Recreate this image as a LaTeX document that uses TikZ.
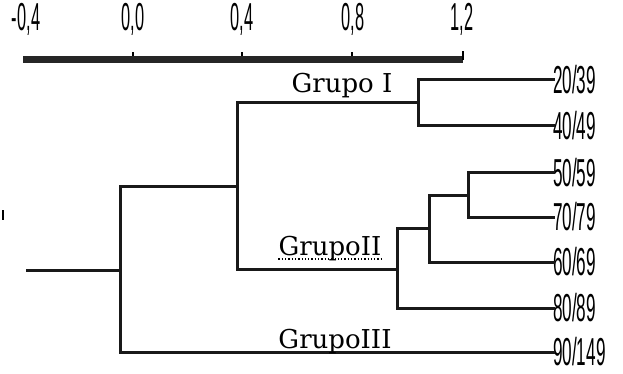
\documentclass[tikz,border=0pt]{standalone}
\usepackage{fontspec}
\usetikzlibrary{calc}
\newfontfamily\numfont{Liberation Sans}
\newfontfamily\groupfont{DejaVu Serif}
\begin{document}
\begin{tikzpicture}[x=1pt,y=-1pt,
  branch/.style={line width=3pt,line cap=rect,color=black!90},
  leaflabel/.style={anchor=west,inner sep=0pt,font=\numfont\fontsize{39}{39}\selectfont,xscale=0.44},
  scalelabel/.style={anchor=south,inner sep=0pt,font=\numfont\fontsize{39}{39}\selectfont,xscale=0.42},
  grouplabel/.style={inner sep=0pt,font=\groupfont\fontsize{26}{26}\selectfont}]
\useasboundingbox (0,0) rectangle (623,374);

% scale bar with its tick labels
\coordinate (barL) at (23,60);
\coordinate (barR) at (463,60);
\draw[line width=7pt,color=black!85] (barL) -- (barR);
\foreach \x in {133,242,352} \draw[line width=1.2pt] (\x,56) -- (\x,52);
\draw[line width=1.5pt] (barR) -- ++(0,-9);
\node[scalelabel] (sm4) at (26,36) {-0,4};
\node[scalelabel] (s00) at (133,36) {0,0};
\node[scalelabel] (s04) at (242,36) {0,4};
\node[scalelabel] (s08) at (353,36) {0,8};
\node[scalelabel] (s12) at (462,36) {1,2};

% leaves
\node[leaflabel] (l20) at (553,80)  {20/39};
\node[leaflabel] (l40) at (553,126) {40/49};
\node[leaflabel] (l50) at (553,173) {50/59};
\node[leaflabel] (l70) at (553,217) {70/79};
\node[leaflabel] (l60) at (553,262) {60/69};
\node[leaflabel] (l80) at (553,308) {80/89};
\node[leaflabel] (l90) at (553,352) {90/149};

% junctions of the tree
\coordinate (A) at (418,103);
\coordinate (B) at (468,195);
\coordinate (C) at (429,228.5);
\coordinate (D) at (397,269);
\coordinate (E) at (237,186);
\coordinate (F) at (120,270);
\coordinate (root) at (27,270);

\draw[branch] (A) |- (l20.west);
\draw[branch] (A) |- (l40.west);
\draw[branch] (B) |- (l50.west);
\draw[branch] (B) |- (l70.west);
\draw[branch] (C) |- (B);
\draw[branch] (C) |- (l60.west);
\draw[branch] (D) |- (C);
\draw[branch] (D) |- (l80.west);
\draw[branch] (E) |- (A);
\draw[branch] (E) |- (D);
\draw[branch] (F) |- (E);
\draw[branch] (F) |- (l90.west);
\draw[branch] (root) -- (F);

% group names
\node[grouplabel,anchor=base] (g1) at (342,93) {Grupo I};
\node[grouplabel,anchor=base] (g2) at (330,255) {GrupoII};
\draw[line width=1.3pt,dotted] ($(g2.base west)+(0,4)$) -- ($(g2.base east)+(0,4)$);
\node[grouplabel,anchor=base] (g3) at (335,348) {GrupoIII};

% stray mark at the left edge
\draw[line width=1.5pt] (3,210) -- (3,220);
\end{tikzpicture}
\end{document}
